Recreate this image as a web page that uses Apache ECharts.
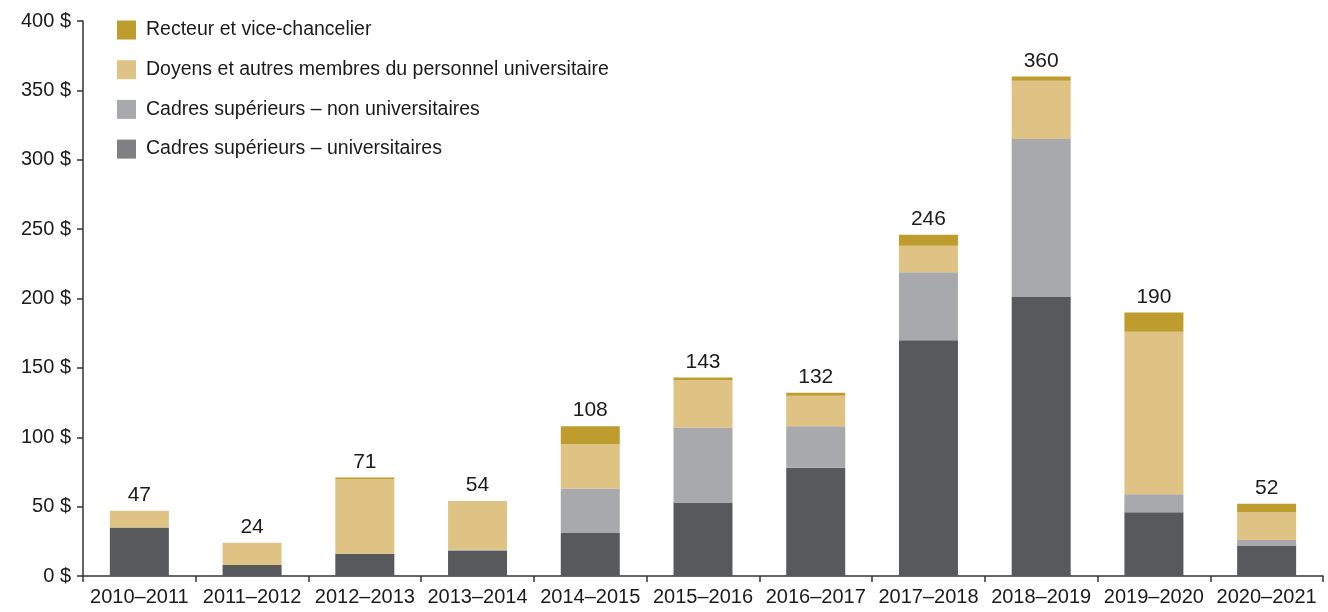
<!DOCTYPE html>
<html><head><meta charset="utf-8">
<script src="https://cdn.jsdelivr.net/npm/echarts@6/dist/echarts.min.js"></script>
<style>html,body{margin:0;padding:0;background:#fff}#c{width:1328px;height:612px}</style>
</head><body><div id="c"></div>
<script>
var categories = ['2010–2011','2011–2012','2012–2013','2013–2014','2014–2015','2015–2016','2016–2017','2017–2018','2018–2019','2019–2020','2020–2021'];
var cadresUniv    = [35, 8, 16, 18, 31, 53, 78, 170, 201, 46, 22];
var cadresNonUniv = [0, 0, 0, 1, 32, 54, 30, 49, 114, 13, 4];
var doyens        = [12, 16, 54, 35, 32, 34, 22, 19, 42, 117, 20];
var recteur       = [0, 0, 1, 0, 13, 2, 2, 8, 3, 14, 6];
var totals        = [47, 24, 71, 54, 108, 143, 132, 246, 360, 190, 52];
var yTicks = [0, 50, 100, 150, 200, 250, 300, 350, 400];

var FONT = '"Liberation Sans", Arial, sans-serif';
var names = ['Recteur et vice-chancelier','Doyens et autres membres du personnel universitaire','Cadres supérieurs – non universitaires','Cadres supérieurs – universitaires'];
var colors = ['#BF9C2E','#DFC385','#A8A9AC','#58595B'];
var legendColors = ['#BF9C2E','#DFC385','#A8A9AC','#808083'];

var chart = echarts.init(document.getElementById('c'), null, {renderer:'canvas'});
function bar(name, data, color, extra){
  var s = {name:name, type:'bar', stack:'t', data:data, barWidth:59,
    itemStyle:{color:color}, emphasis:{disabled:true}, animation:false};
  if (extra) for (var k in extra) s[k]=extra[k];
  return s;
}
chart.setOption({
  animation:false,
  textStyle:{fontFamily:FONT},
  grid:{left:83, right:5, top:21, bottom:36, containLabel:false},
  legend:{
    orient:'vertical', left:117, top:20, itemWidth:19, itemHeight:19, itemGap:19.7,
    padding:0, selectedMode:false,
    textStyle:{fontFamily:FONT, fontSize:19.5, color:'#1a1a1a', padding:[0,0,0,5]},
    data: names.map(function(n,i){return {name:n, icon:'rect', itemStyle:{color:legendColors[i]}};})
  },
  xAxis:{
    type:'category', data:categories,
    axisLine:{lineStyle:{color:'#333', width:1.5}},
    axisTick:{show:true, length:6, lineStyle:{color:'#333', width:1.5}},
    axisLabel:{fontFamily:FONT, fontSize:20, color:'#1a1a1a', margin:11, interval:0}
  },
  yAxis:{
    type:'value', min:0, max:400, interval:50,
    axisLine:{show:true, lineStyle:{color:'#333', width:1.5}},
    axisTick:{show:true, length:6, lineStyle:{color:'#333', width:1.5}},
    splitLine:{show:false},
    axisLabel:{fontFamily:FONT, fontSize:20, color:'#1a1a1a', margin:12,
      formatter:function(v){return yTicks.indexOf(v)>=0 ? v+' $' : '';}}
  },
  series:[
    bar(names[3], cadresUniv, colors[3]),
    bar(names[2], cadresNonUniv, colors[2]),
    bar(names[1], doyens, colors[1]),
    bar(names[0], recteur, colors[0], {
      label:{show:true, position:'top', distance:5, fontFamily:FONT, fontSize:21, color:'#1a1a1a',
        formatter:function(p){return totals[p.dataIndex];}}
    })
  ]
});
</script></body></html>
